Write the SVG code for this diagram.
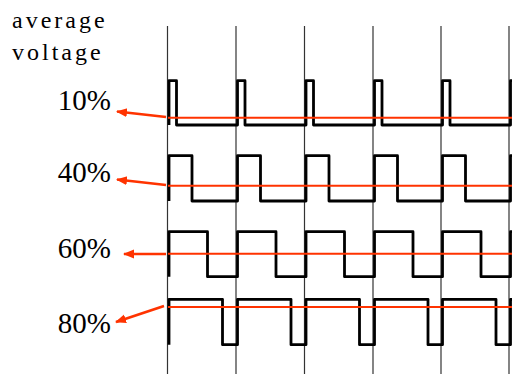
<svg xmlns="http://www.w3.org/2000/svg" width="512" height="374" viewBox="0 0 512 374">
<style>
.grid{stroke:#333;stroke-width:1.2}
.wave{fill:none;stroke:#000;stroke-width:2.8;stroke-linejoin:round}
.ref{stroke:#ff3300;stroke-width:2}
.arr{stroke:#ff3300;stroke-width:2.6;fill:none}
.lbl{font-family:"Liberation Serif",serif;font-size:29px;fill:#000}
.hdr{font-family:"Liberation Serif",serif;font-size:24px;letter-spacing:3px;fill:#000}
</style>
<defs>
<marker id="ah" markerUnits="userSpaceOnUse" markerWidth="12" markerHeight="10" refX="10" refY="4.5" orient="auto">
<path d="M0,0 L11,4.5 L0,9 Z" fill="#ff3300"/>
</marker>
</defs>
<rect width="512" height="374" fill="#fff"/>
<g id="grid">
<line class="grid" x1="167.5" y1="26" x2="167.5" y2="374"/>
<line class="grid" x1="236" y1="26" x2="236" y2="374"/>
<line class="grid" x1="304.5" y1="26" x2="304.5" y2="374"/>
<line class="grid" x1="373" y1="26" x2="373" y2="374"/>
<line class="grid" x1="441" y1="26" x2="441" y2="374"/>
<line class="grid" x1="509" y1="26" x2="509" y2="374"/>
</g>
<g id="header">
<text class="hdr" x="12" y="28">average</text>
<text class="hdr" x="12" y="59.5">voltage</text>
</g>
<g id="wave10">
<path class="wave" d="M169,125 V80.7 H176.5 V125 H237.5 V80.7 H245 V125 H306 V80.7 H313.5 V125 H374.5 V80.7 H382 V125 H442.5 V80.7 H450 V125 H510.5 V80.7 H514"/>
<line class="ref" x1="168" y1="117.7" x2="512" y2="117.7"/>
<text class="lbl" x="111" y="110" text-anchor="end">10%</text>
</g>
<g id="wave40">
<path class="wave" d="M169,201 V155.7 H192 V201 H237.5 V155.7 H260.5 V201 H306 V155.7 H329 V201 H374.5 V155.7 H397.5 V201 H442.5 V155.7 H465.5 V201 H510.5 V155.7 H514"/>
<line class="ref" x1="168" y1="185.7" x2="512" y2="185.7"/>
<text class="lbl" x="111" y="182" text-anchor="end">40%</text>
</g>
<g id="wave60">
<path class="wave" d="M169,276.7 V231.7 H207.5 V276.7 H237.5 V231.7 H276 V276.7 H306 V231.7 H344.5 V276.7 H374.5 V231.7 H413 V276.7 H442.5 V231.7 H481 V276.7 H510.5 V231.7 H514"/>
<line class="ref" x1="168" y1="253.7" x2="512" y2="253.7"/>
<text class="lbl" x="111" y="258" text-anchor="end">60%</text>
</g>
<g id="wave80">
<path class="wave" d="M169,344.7 V299.3 H222.5 V344.7 H237.5 V299.3 H291 V344.7 H306 V299.3 H359.5 V344.7 H374.5 V299.3 H428 V344.7 H442.5 V299.3 H496 V344.7 H510.5 V299.3 H514"/>
<line class="ref" x1="168" y1="307" x2="512" y2="307"/>
<text class="lbl" x="111" y="332.5" text-anchor="end">80%</text>
</g>
<g id="connectors">
<line class="arr" x1="166" y1="117" x2="117" y2="111.5" marker-end="url(#ah)"/>
<line class="arr" x1="166" y1="185" x2="117" y2="179.5" marker-end="url(#ah)"/>
<line class="arr" x1="166" y1="254" x2="124" y2="254" marker-end="url(#ah)"/>
<line class="arr" x1="164" y1="306" x2="116" y2="322" marker-end="url(#ah)"/>
</g>
</svg>
